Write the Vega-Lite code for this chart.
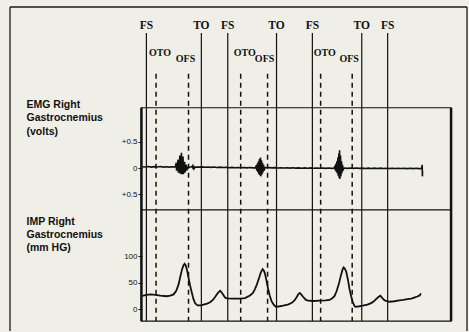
{
  "$schema": "https://vega.github.io/schema/vega-lite/v6.json",
  "width": 469,
  "height": 332,
  "autosize": {"type": "fit", "contains": "padding"},
  "padding": {"left": 9, "top": 6, "right": 1, "bottom": 0},
  "background": "#efefe8",
  "config": {"view": {"stroke": null}},
  "datasets": {
    "events": [
      {"event": "FS", "t": 0, "kind": "main"},
      {"event": "OTO", "t": 97, "kind": "opp"},
      {"event": "OFS", "t": 423, "kind": "opp"},
      {"event": "TO", "t": 552, "kind": "main"},
      {"event": "FS", "t": 817, "kind": "main"},
      {"event": "OTO", "t": 947, "kind": "opp"},
      {"event": "OFS", "t": 1217, "kind": "opp"},
      {"event": "TO", "t": 1307, "kind": "main"},
      {"event": "FS", "t": 1667, "kind": "main"},
      {"event": "OTO", "t": 1750, "kind": "opp"},
      {"event": "OFS", "t": 2067, "kind": "opp"},
      {"event": "TO", "t": 2163, "kind": "main"},
      {"event": "FS", "t": 2423, "kind": "main"}
    ],
    "emg": [
      {"t": -40, "v": 0.025}, {"t": -10, "v": 0.02}, {"t": 20, "v": 0.03}, {"t": 50, "v": 0.018},
      {"t": 80, "v": 0.026}, {"t": 110, "v": 0.02}, {"t": 140, "v": 0.028}, {"t": 170, "v": 0.017},
      {"t": 200, "v": 0.024}, {"t": 230, "v": 0.018}, {"t": 260, "v": 0.025}, {"t": 290, "v": 0.02},
      {"t": 300, "v": 0.1}, {"t": 303, "v": -0.05}, {"t": 312, "v": 0.06}, {"t": 318, "v": 0.16},
      {"t": 321, "v": -0.09}, {"t": 330, "v": 0.03}, {"t": 336, "v": 0.24}, {"t": 339, "v": -0.11},
      {"t": 346, "v": 0.05}, {"t": 352, "v": 0.29}, {"t": 355, "v": -0.12}, {"t": 362, "v": 0.04},
      {"t": 368, "v": 0.22}, {"t": 371, "v": -0.12}, {"t": 378, "v": 0.0}, {"t": 384, "v": 0.12},
      {"t": 387, "v": -0.09}, {"t": 395, "v": 0.02}, {"t": 402, "v": 0.06}, {"t": 405, "v": -0.05},
      {"t": 415, "v": 0.01}, {"t": 440, "v": 0.02}, {"t": 455, "v": 0.02}, {"t": 465, "v": 0.045},
      {"t": 468, "v": -0.02}, {"t": 475, "v": 0.04}, {"t": 478, "v": -0.015}, {"t": 490, "v": 0.02},
      {"t": 530, "v": 0.017}, {"t": 560, "v": 0.022}, {"t": 590, "v": 0.014}, {"t": 620, "v": 0.02},
      {"t": 650, "v": 0.012}, {"t": 680, "v": 0.018}, {"t": 710, "v": 0.01}, {"t": 740, "v": 0.016},
      {"t": 770, "v": 0.01}, {"t": 800, "v": 0.014}, {"t": 830, "v": 0.006}, {"t": 860, "v": 0.012},
      {"t": 890, "v": 0.005}, {"t": 920, "v": 0.011}, {"t": 950, "v": 0.004}, {"t": 980, "v": 0.01},
      {"t": 1010, "v": 0.003}, {"t": 1040, "v": 0.009}, {"t": 1070, "v": 0.002}, {"t": 1095, "v": 0.005},
      {"t": 1105, "v": 0.05}, {"t": 1108, "v": -0.05}, {"t": 1116, "v": 0.09}, {"t": 1119, "v": -0.08},
      {"t": 1126, "v": 0.13}, {"t": 1129, "v": -0.12}, {"t": 1136, "v": 0.17}, {"t": 1139, "v": -0.14},
      {"t": 1146, "v": 0.2}, {"t": 1149, "v": -0.16}, {"t": 1156, "v": 0.15}, {"t": 1159, "v": -0.13},
      {"t": 1166, "v": 0.1}, {"t": 1169, "v": -0.09}, {"t": 1177, "v": 0.06}, {"t": 1180, "v": -0.05},
      {"t": 1192, "v": 0.01},
      {"t": 1230, "v": 0.008}, {"t": 1260, "v": 0.002}, {"t": 1290, "v": 0.007}, {"t": 1320, "v": 0.0},
      {"t": 1350, "v": 0.006}, {"t": 1380, "v": -0.001}, {"t": 1410, "v": 0.005}, {"t": 1440, "v": -0.002},
      {"t": 1470, "v": 0.004}, {"t": 1500, "v": -0.003}, {"t": 1530, "v": 0.003}, {"t": 1560, "v": -0.004},
      {"t": 1590, "v": 0.002}, {"t": 1620, "v": -0.004}, {"t": 1650, "v": 0.002}, {"t": 1680, "v": -0.005},
      {"t": 1710, "v": 0.001}, {"t": 1740, "v": -0.005}, {"t": 1770, "v": 0.001}, {"t": 1800, "v": -0.006},
      {"t": 1830, "v": 0.0}, {"t": 1860, "v": -0.006}, {"t": 1885, "v": 0.0},
      {"t": 1893, "v": 0.04}, {"t": 1896, "v": -0.04}, {"t": 1903, "v": 0.08}, {"t": 1906, "v": -0.07},
      {"t": 1913, "v": 0.13}, {"t": 1916, "v": -0.1}, {"t": 1923, "v": 0.2}, {"t": 1926, "v": -0.15},
      {"t": 1933, "v": 0.28}, {"t": 1936, "v": -0.19}, {"t": 1940, "v": 0.34}, {"t": 1943, "v": -0.21},
      {"t": 1950, "v": 0.24}, {"t": 1953, "v": -0.16}, {"t": 1960, "v": 0.13}, {"t": 1963, "v": -0.1},
      {"t": 1970, "v": 0.06}, {"t": 1973, "v": -0.05}, {"t": 1985, "v": 0.0},
      {"t": 2020, "v": -0.006}, {"t": 2050, "v": 0.0}, {"t": 2080, "v": -0.007}, {"t": 2110, "v": -0.001},
      {"t": 2140, "v": -0.007}, {"t": 2170, "v": -0.002}, {"t": 2200, "v": -0.008}, {"t": 2230, "v": -0.002},
      {"t": 2260, "v": -0.008}, {"t": 2290, "v": -0.003}, {"t": 2320, "v": -0.009}, {"t": 2350, "v": -0.003},
      {"t": 2380, "v": -0.009}, {"t": 2410, "v": -0.004}, {"t": 2440, "v": -0.01}, {"t": 2470, "v": -0.004},
      {"t": 2500, "v": -0.01}, {"t": 2530, "v": -0.005}, {"t": 2560, "v": -0.01}, {"t": 2590, "v": -0.005},
      {"t": 2620, "v": -0.011}, {"t": 2650, "v": -0.006}, {"t": 2680, "v": -0.011}, {"t": 2710, "v": -0.006},
      {"t": 2740, "v": -0.012}, {"t": 2765, "v": -0.008}, {"t": 2770, "v": 0.06}, {"t": 2772, "v": -0.16},
      {"t": 2774, "v": -0.06}
    ],
    "imp": [
      {"t": -40, "p": 25}, {"t": 0, "p": 27}, {"t": 40, "p": 28}, {"t": 90, "p": 27}, {"t": 140, "p": 25.5},
      {"t": 200, "p": 24.5}, {"t": 240, "p": 25.5}, {"t": 273, "p": 28}, {"t": 300, "p": 35}, {"t": 323, "p": 47},
      {"t": 340, "p": 61}, {"t": 357, "p": 75}, {"t": 372, "p": 83}, {"t": 383, "p": 86}, {"t": 395, "p": 83},
      {"t": 407, "p": 75}, {"t": 425, "p": 58}, {"t": 440, "p": 44}, {"t": 458, "p": 30}, {"t": 473, "p": 19},
      {"t": 490, "p": 11}, {"t": 513, "p": 7}, {"t": 545, "p": 7}, {"t": 573, "p": 8.5}, {"t": 610, "p": 10.5},
      {"t": 640, "p": 13}, {"t": 665, "p": 17}, {"t": 690, "p": 23}, {"t": 715, "p": 30}, {"t": 740, "p": 35},
      {"t": 755, "p": 32}, {"t": 773, "p": 27}, {"t": 790, "p": 22}, {"t": 807, "p": 20.5}, {"t": 873, "p": 20},
      {"t": 940, "p": 20}, {"t": 990, "p": 21}, {"t": 1040, "p": 26}, {"t": 1070, "p": 31}, {"t": 1090, "p": 38},
      {"t": 1110, "p": 47}, {"t": 1133, "p": 60}, {"t": 1150, "p": 70}, {"t": 1167, "p": 76}, {"t": 1180, "p": 73},
      {"t": 1190, "p": 68}, {"t": 1205, "p": 55}, {"t": 1223, "p": 38}, {"t": 1240, "p": 25}, {"t": 1257, "p": 15},
      {"t": 1280, "p": 8}, {"t": 1300, "p": 4.5}, {"t": 1340, "p": 5.5}, {"t": 1373, "p": 6.5}, {"t": 1420, "p": 8.5},
      {"t": 1457, "p": 11.5}, {"t": 1485, "p": 16}, {"t": 1507, "p": 22}, {"t": 1525, "p": 28}, {"t": 1540, "p": 30.5},
      {"t": 1555, "p": 28}, {"t": 1573, "p": 23.5}, {"t": 1600, "p": 18}, {"t": 1623, "p": 16}, {"t": 1680, "p": 15.5},
      {"t": 1740, "p": 16}, {"t": 1800, "p": 16.5}, {"t": 1840, "p": 17.5}, {"t": 1870, "p": 21}, {"t": 1890, "p": 25},
      {"t": 1910, "p": 34}, {"t": 1933, "p": 48}, {"t": 1955, "p": 65}, {"t": 1970, "p": 75}, {"t": 1980, "p": 79},
      {"t": 1993, "p": 77}, {"t": 2007, "p": 71}, {"t": 2025, "p": 55}, {"t": 2040, "p": 38}, {"t": 2057, "p": 24},
      {"t": 2073, "p": 13}, {"t": 2090, "p": 6}, {"t": 2100, "p": 4.5}, {"t": 2140, "p": 5.5}, {"t": 2173, "p": 6.5},
      {"t": 2220, "p": 8.5}, {"t": 2257, "p": 11.5}, {"t": 2285, "p": 15}, {"t": 2307, "p": 19}, {"t": 2330, "p": 23},
      {"t": 2350, "p": 25.5}, {"t": 2370, "p": 21}, {"t": 2390, "p": 17}, {"t": 2415, "p": 15}, {"t": 2440, "p": 14},
      {"t": 2490, "p": 15}, {"t": 2540, "p": 16.5}, {"t": 2580, "p": 17.5}, {"t": 2623, "p": 19}, {"t": 2660, "p": 20},
      {"t": 2690, "p": 22}, {"t": 2720, "p": 24}, {"t": 2745, "p": 26}, {"t": 2757, "p": 30}
    ]
  },
  "layer": [
    {
      "layer": [
        {
          "data": {"values": [{}]},
          "mark": {"type": "rule", "stroke": "#1a1a1a", "strokeWidth": 1.3},
          "encoding": {
            "x": {"datum": -1370, "type": "quantitative", "scale": {"domain": [-1370, 3220], "nice": false, "zero": false}, "axis": null},
            "y": {"datum": 1, "type": "quantitative", "scale": {"domain": [0, 1], "nice": false, "zero": false}, "axis": null},
            "y2": {"datum": 0}
          }
        },
        {
          "data": {"values": [{}]},
          "mark": {"type": "rule", "stroke": "#1a1a1a", "strokeWidth": 1.3},
          "encoding": {
            "x": {"datum": 3220, "type": "quantitative", "axis": null},
            "y": {"datum": 1, "type": "quantitative", "axis": null},
            "y2": {"datum": 0}
          }
        },
        {
          "data": {"values": [{}]},
          "mark": {"type": "rule", "stroke": "#1a1a1a", "strokeWidth": 1.3},
          "encoding": {
            "x": {"datum": -1370, "type": "quantitative", "axis": null},
            "x2": {"datum": 3220},
            "y": {"datum": 1, "type": "quantitative", "axis": null}
          }
        },
        {
          "data": {"values": [{}]},
          "mark": {"type": "rect", "fill": null, "fillOpacity": 0, "stroke": "#111", "strokeWidth": 1.2},
          "encoding": {
            "x": {"datum": -50, "type": "quantitative", "axis": null},
            "x2": {"datum": 3060},
            "y": {"datum": 0.689, "type": "quantitative", "axis": null},
            "y2": {"datum": 0.0307}
          }
        },
        {
          "data": {"values": [{}]},
          "mark": {"type": "rule", "stroke": "#111", "strokeWidth": 1.2},
          "encoding": {
            "x": {"datum": -50, "type": "quantitative", "axis": null},
            "x2": {"datum": 3060},
            "y": {"datum": 0.374, "type": "quantitative", "axis": null}
          }
        },
        {
          "data": {"values": [{"edge": -50}, {"edge": 3060}]},
          "mark": {"type": "rule", "stroke": "#111", "strokeWidth": 2.5},
          "encoding": {
            "x": {"field": "edge", "type": "quantitative", "axis": null},
            "y": {"datum": 0.689, "type": "quantitative", "axis": null},
            "y2": {"datum": 0.0307}
          }
        },
        {
          "data": {"name": "events"},
          "transform": [{"filter": "datum.kind == 'main'"}],
          "mark": {"type": "rule", "stroke": "#111", "strokeWidth": 1.2},
          "encoding": {
            "x": {"field": "t", "type": "quantitative", "axis": null},
            "y": {"datum": 0.92, "type": "quantitative", "axis": null},
            "y2": {"datum": 0.0307}
          }
        },
        {
          "data": {"name": "events"},
          "transform": [{"filter": "datum.kind == 'opp'"}],
          "mark": {"type": "rule", "stroke": "#111", "strokeWidth": 1.5, "strokeDash": [5, 4]},
          "encoding": {
            "x": {"field": "t", "type": "quantitative", "axis": null},
            "y": {"datum": 0.794, "type": "quantitative", "axis": null},
            "y2": {"datum": 0.0307}
          }
        },
        {
          "data": {"name": "events"},
          "transform": [{"filter": "datum.kind == 'main'"}],
          "mark": {"type": "text", "font": "Liberation Serif", "fontWeight": "bold", "fontSize": 11.5, "color": "#111", "align": "center", "baseline": "middle"},
          "encoding": {
            "x": {"field": "t", "type": "quantitative", "axis": null},
            "y": {"datum": 0.94, "type": "quantitative", "axis": null},
            "text": {"field": "event"}
          }
        },
        {
          "data": {"name": "events"},
          "transform": [{"filter": "datum.event == 'OTO'"}],
          "mark": {"type": "text", "font": "Liberation Serif", "fontWeight": "bold", "fontSize": 10, "color": "#111", "align": "left", "baseline": "middle", "dx": -7},
          "encoding": {
            "x": {"field": "t", "type": "quantitative", "axis": null},
            "y": {"datum": 0.857, "type": "quantitative", "axis": null},
            "text": {"field": "event"}
          }
        },
        {
          "data": {"name": "events"},
          "transform": [{"filter": "datum.event == 'OFS'"}],
          "mark": {"type": "text", "font": "Liberation Serif", "fontWeight": "bold", "fontSize": 10, "color": "#111", "align": "center", "baseline": "middle", "dx": -3},
          "encoding": {
            "x": {"field": "t", "type": "quantitative", "axis": null},
            "y": {"datum": 0.841, "type": "quantitative", "axis": null},
            "text": {"field": "event"}
          }
        }
      ]
    },
    {
      "data": {"name": "emg"},
      "mark": {"type": "line", "stroke": "#111", "strokeWidth": 1.6},
      "encoding": {
        "x": {"field": "t", "type": "quantitative", "axis": null},
        "y": {
          "field": "v",
          "type": "quantitative",
          "scale": {"domain": [-3.124, 3.086], "nice": false, "zero": false},
          "axis": {
            "orient": "left",
            "offset": -132,
            "values": [0.5, 0, -0.5],
            "labelExpr": "datum.value == 0 ? '0' : '+0.5'",
            "domain": false,
            "grid": false,
            "tickSize": 4,
            "tickColor": "#111",
            "labelFont": "Liberation Sans",
            "labelFontSize": 8,
            "labelColor": "#111",
            "labelPadding": 1,
            "title": ["EMG Right", "Gastrocnemius", "(volts)"],
            "titleX": -116,
            "titleY": 100.5,
            "titleAngle": 0,
            "titleAlign": "left",
            "titleBaseline": "alphabetic",
            "titleFont": "Liberation Sans",
            "titleFontWeight": "bold",
            "titleFontSize": 10.5,
            "titleLineHeight": 13.3,
            "titleColor": "#111"
          }
        }
      }
    },
    {
      "data": {"name": "imp"},
      "mark": {"type": "line", "stroke": "#111", "strokeWidth": 1.8},
      "encoding": {
        "x": {"field": "t", "type": "quantitative", "axis": null},
        "y": {
          "field": "p",
          "type": "quantitative",
          "scale": {"domain": [-41.5, 573.6], "nice": false, "zero": false},
          "axis": {
            "orient": "left",
            "offset": -132,
            "values": [100, 50, 0],
            "domain": false,
            "grid": false,
            "tickSize": 4,
            "tickColor": "#111",
            "labelFont": "Liberation Sans",
            "labelFontSize": 8,
            "labelColor": "#111",
            "labelPadding": 1,
            "title": ["IMP Right", "Gastrocnemius", "(mm HG)"],
            "titleX": -116,
            "titleY": 217,
            "titleAngle": 0,
            "titleAlign": "left",
            "titleBaseline": "alphabetic",
            "titleFont": "Liberation Sans",
            "titleFontWeight": "bold",
            "titleFontSize": 10.5,
            "titleLineHeight": 13.3,
            "titleColor": "#111"
          }
        }
      }
    }
  ],
  "resolve": {"scale": {"y": "independent"}, "axis": {"y": "independent"}}
}
